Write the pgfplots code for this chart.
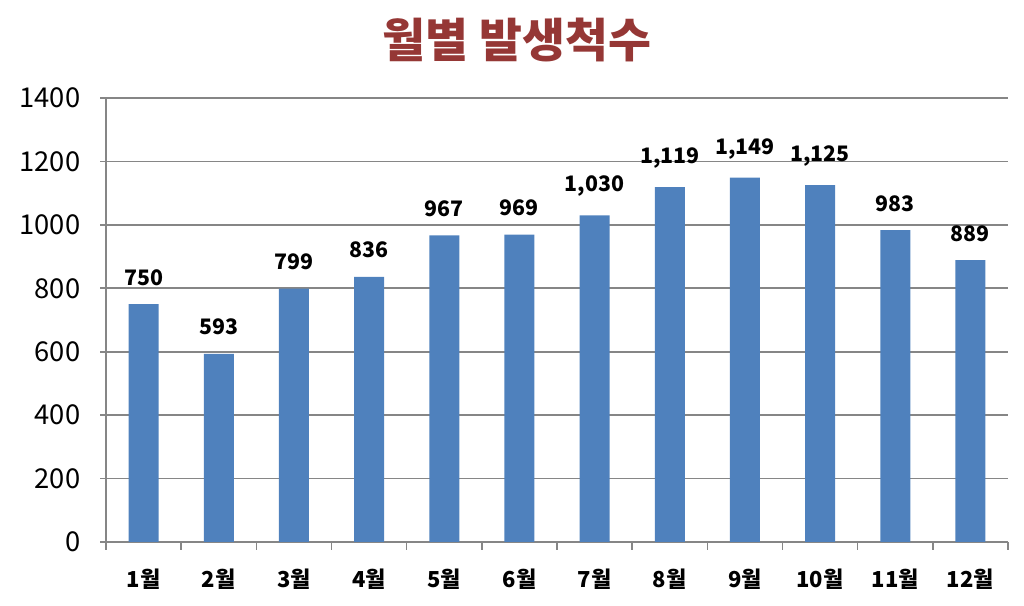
\documentclass[border=0pt]{standalone}
\usepackage{fontspec}
\setmainfont{Noto Sans CJK KR}
\usepackage{pgfplots}
\pgfplotsset{compat=1.18}
\definecolor{barblue}{HTML}{4F81BD}
\definecolor{titlered}{HTML}{953735}
\definecolor{gridgray}{HTML}{868686}
\begin{document}
\begin{tikzpicture}[x=0.75pt,y=0.75pt]
\path[use as bounding box] (0,0) rectangle (1024,606);
\node[font=\fontsize{35pt}{36pt}\selectfont\bfseries, text=titlered] at (517,566) {월별 발생척수};
\begin{axis}[
  at={(106*0.75pt,64*0.75pt)}, anchor=south west,
  scale only axis, width=902*0.75pt, height=444*0.75pt,
  ybar, bar width=30*0.75pt,
  xmin=-0.5, xmax=11.5, ymin=0, ymax=1400,
  ytick={0,200,...,1400},
  xtick={0,...,11},
  xticklabels={1월,2월,3월,4월,5월,6월,7월,8월,9월,10월,11월,12월},
  minor xtick={-0.5,0.5,...,11.5},
  axis x line*=bottom, axis y line*=left,
  axis line style={draw=gridgray, line width=1.3pt},
  ymajorgrids, grid style={draw=gridgray, line width=1.3pt},
  tick align=outside,
  x tick style={draw=gridgray, line width=1.2pt},
  y tick style={draw=gridgray, line width=1.2pt},
  major x tick style={draw=none},
  major tick length=6*0.75pt, minor tick length=8*0.75pt,
  /pgf/number format/assume math mode=true,
  yticklabel style={font=\fontsize{20.5pt}{21pt}\selectfont, /pgf/number format/1000 sep={}, xshift=-15*0.75pt},
  xticklabel style={font=\fontsize{16.5pt}{17pt}\selectfont\bfseries, yshift=-16*0.75pt},
  nodes near coords={\pgfmathprintnumber[assume math mode=true,1000 sep={,}]{\pgfplotspointmeta}},
  nodes near coords style={font=\fontsize{16pt}{17pt}\selectfont\bfseries, anchor=south, yshift=14*0.75pt},
  clip=false,
]
\addplot[fill=barblue, draw=none] coordinates {
(0,750) (1,593) (2,799) (3,836) (4,967) (5,969) (6,1030) (7,1119) (8,1149) (9,1125) (10,983) (11,889)};
\end{axis}
\end{tikzpicture}
\end{document}
